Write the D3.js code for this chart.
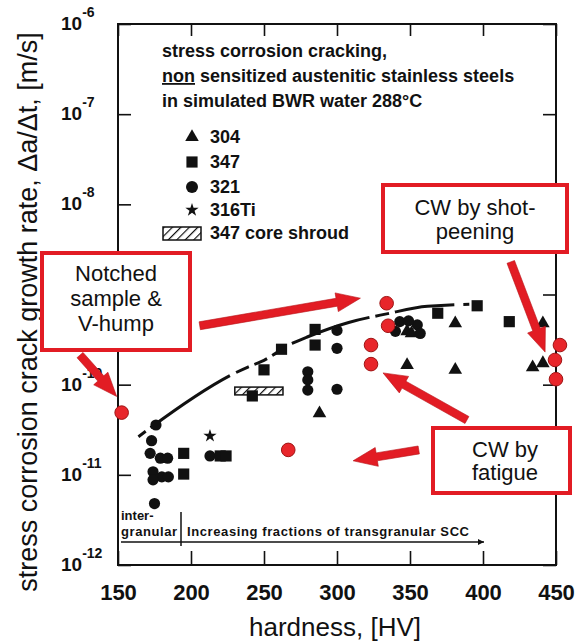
<!DOCTYPE html>
<html>
<head>
<meta charset="utf-8">
<script src="https://cdn.jsdelivr.net/npm/d3@7"></script>
<style>
  body { margin: 0; background: #fff; }
  svg text { font-family: "Liberation Sans", Arial, Helvetica, sans-serif; fill: #111; }
</style>
</head>
<body>
<div id="chart"></div>
<script>
// ---- data ----
var hardnessTicks = [150, 200, 250, 300, 350, 400, 450];
var rateTicks = [1e-6, 1e-7, 1e-8, 1e-9, 1e-10, 1e-11, 1e-12];
var rateExponents = ["-6", "-7", "-8", "-9", "-10", "-11", "-12"];
// the 10^-9 label sits under the "Notched sample" callout in the original
var rateLabelShown = [true, true, true, false, true, true, true];

var seriesNames = ["304", "347", "321", "316Ti", "347 core shroud"];

// 304 - triangles
var hv304 = [288, 348, 351, 348, 381, 381, 441, 434, 441];
var rate304 = [4.8e-11, 3.9e-10, 3.7e-10, 1.65e-10, 4.8e-10, 1.46e-10, 4.8e-10, 1.56e-10, 1.73e-10];

// 347 - squares
var hv347 = [195, 195, 220, 224, 242, 250, 262, 285, 285, 369, 396, 418];
var rate347 = [1.73e-11, 1.02e-11, 1.62e-11, 1.62e-11, 7.5e-11, 1.46e-10, 2.47e-10, 4.1e-10, 2.75e-10, 6.2e-10, 7.5e-10, 5.0e-10];

// 321 - circles
var hv321 = [176, 173, 172, 179, 184, 174, 180, 184.5, 174, 175, 213, 300, 300, 280, 280, 280, 300, 343, 355, 340, 357, 349];
var rate321 = [3.57e-11, 2.39e-11, 1.73e-11, 1.53e-11, 1.53e-11, 1.08e-11, 9.5e-12, 9.5e-12, 8.8e-12, 4.8e-12, 1.62e-11,
               4.0e-10, 2.53e-10, 1.39e-10, 1.13e-10, 8.7e-11, 8.9e-11, 5.0e-10, 4.6e-10, 3.9e-10, 3.7e-10, 5.1e-10];

// 316Ti - star
var hv316Ti = [213];
var rate316Ti = [2.7e-11];

// 347 core shroud - hatched range
var shroudHv = [230, 263];
var shroudRate = [7.7e-11, 9.4e-11];

// cold worked samples - red circles
var hvCW = [152.5, 266.6, 334, 335, 323.3, 323.3, 452.7, 449.3, 450];
var rateCW = [4.9e-11, 1.89e-11, 8.0e-10, 4.5e-10, 2.75e-10, 1.69e-10, 2.75e-10, 1.88e-10, 1.15e-10];

// upper bound trend (dashed)
var trendHv = [164, 239, 248, 270, 280, 308, 334, 362, 400, 446];
var trendRate = [2.65e-11, 1.57e-10, 1.8e-10, 2.9e-10, 3.4e-10, 4.9e-10, 6.1e-10, 7.4e-10, 7.8e-10, 7.7e-10];

// red callout arrows (start -> tip)
var arrowFromHv = [124, 206, 419, 389, 356];
var arrowFromRate = [2.13e-10, 4.5e-10, 2.3e-9, 4.06e-11, 1.89e-11];
var arrowToHv = [149.1, 316, 442.5, 331.5, 311];
var arrowToRate = [7.4e-11, 9.1e-10, 2.3e-10, 1.35e-10, 1.43e-11];

// ---- chart ----
var W = 575, H = 644;
var red = "#e21c24";

var svg = d3.select("#chart").append("svg")
    .attr("width", W)
    .attr("height", H);

var x = d3.scaleLinear().domain([150, 450]).range([118, 556]);
var y = d3.scaleLog().domain([1e-12, 1e-6]).range([565, 24]);

var defs = svg.append("defs");
var hatch = defs.append("pattern")
    .attr("id", "hatch")
    .attr("patternUnits", "userSpaceOnUse")
    .attr("width", 6).attr("height", 6)
    .attr("patternTransform", "rotate(45)");
hatch.append("rect").attr("width", 6).attr("height", 6).attr("fill", "#fff");
hatch.append("line").attr("x1", 0).attr("y1", 0).attr("x2", 0).attr("y2", 6)
    .attr("stroke", "#111").attr("stroke-width", 2.4);

defs.append("marker")
    .attr("id", "blackhead")
    .attr("viewBox", "0 0 10 10")
    .attr("refX", 10).attr("refY", 5)
    .attr("markerWidth", 9).attr("markerHeight", 6)
    .attr("markerUnits", "userSpaceOnUse")
    .attr("orient", "auto")
  .append("path").attr("d", "M0,0L10,5L0,10Z").attr("fill", "#111");

// frame
svg.append("rect")
    .attr("x", x(150)).attr("y", y(1e-6))
    .attr("width", x(450) - x(150)).attr("height", y(1e-12) - y(1e-6))
    .attr("fill", "none").attr("stroke", "#111").attr("stroke-width", 2);

function styleAxis(g) {
  g.select(".domain").remove();
  g.selectAll(".tick line").attr("stroke", "#111").attr("stroke-width", 1.6);
}

// bottom axis
svg.append("g")
    .attr("transform", "translate(0," + y(1e-12) + ")")
    .call(d3.axisBottom(x).tickValues(hardnessTicks).tickSizeInner(-14).tickSizeOuter(0)
      .tickPadding(19).tickFormat(d3.format("d")))
    .call(styleAxis)
    .selectAll("text")
      .attr("font-size", 22)
      .attr("font-weight", "bold");

// top axis
svg.append("g")
    .attr("transform", "translate(0," + y(1e-6) + ")")
    .call(d3.axisTop(x).tickValues(hardnessTicks).tickSizeInner(-12).tickSizeOuter(0).tickFormat(""))
    .call(styleAxis);

// left axis
svg.append("g")
    .attr("transform", "translate(" + x(150) + ",0)")
    .call(d3.axisLeft(y).tickValues(rateTicks).tickSizeInner(-13).tickSizeOuter(0).tickFormat(""))
    .call(styleAxis);

// right axis
svg.append("g")
    .attr("transform", "translate(" + x(450) + ",0)")
    .call(d3.axisRight(y).tickValues(rateTicks).tickSizeInner(-13).tickSizeOuter(0).tickFormat(""))
    .call(styleAxis);

// y tick labels 10^-n
var ylab = svg.append("g").selectAll("text")
    .data(rateTicks.filter(function(d, i) { return rateLabelShown[i]; }))
    .join("text")
    .attr("x", 61)
    .attr("y", function(d) { return y(d) + 6; })
    .attr("font-size", 19)
    .attr("font-weight", "bold");
ylab.append("tspan").text("10");
ylab.append("tspan")
    .attr("dy", -13)
    .attr("font-size", 14)
    .text(function(d) { return rateExponents[rateTicks.indexOf(d)]; });

// axis titles
svg.append("text")
    .attr("transform", "translate(37,312) rotate(-90)")
    .attr("text-anchor", "middle")
    .attr("font-size", 27)
    .text("stress corrosion crack growth rate, \u0394a/\u0394t,  [m/s]");

svg.append("text")
    .attr("x", 335).attr("y", 636)
    .attr("text-anchor", "middle")
    .attr("font-size", 26)
    .text("hardness,  [HV]");

// header text inside plot
var head = svg.append("g").attr("font-size", 18).attr("font-weight", "bold");
head.append("text").attr("x", 162).attr("y", 57).text("stress corrosion cracking,");
var l2 = head.append("text").attr("x", 162).attr("y", 82);
l2.append("tspan").attr("text-decoration", "underline").text("non");
l2.append("tspan").text(" sensitized austenitic stainless steels");
head.append("text").attr("x", 162).attr("y", 107).text("in simulated BWR water 288\u00B0C");

// legend
var legY = [137, 162, 187, 210, 233];
var legend = svg.append("g");
legend.selectAll("text")
    .data(seriesNames)
    .join("text")
    .attr("x", 210)
    .attr("y", function(d, i) { return legY[i] + 6; })
    .attr("font-size", 18)
    .attr("font-weight", "bold")
    .text(function(d) { return d; });

var triSym = d3.symbol().type(d3.symbolTriangle).size(80);
var sqSym = d3.symbol().type(d3.symbolSquare).size(125);
var starSym = d3.symbol().type(d3.symbolStar).size(55);

legend.append("path").attr("d", triSym()).attr("transform", "translate(192," + legY[0] + ")").attr("fill", "#111");
legend.append("path").attr("d", sqSym()).attr("transform", "translate(192," + legY[1] + ")").attr("fill", "#111");
legend.append("circle").attr("cx", 192).attr("cy", legY[2]).attr("r", 6).attr("fill", "#111");
legend.append("path").attr("d", starSym()).attr("transform", "translate(192," + legY[3] + ")").attr("fill", "#111");
legend.append("rect").attr("x", 163).attr("y", legY[4] - 6).attr("width", 38).attr("height", 13)
    .attr("fill", "url(#hatch)").attr("stroke", "#111").attr("stroke-width", 1.5);

// trend line
var trend = d3.line()
    .x(function(d, i) { return x(trendHv[i]); })
    .y(function(d, i) { return y(trendRate[i]); })
    .curve(d3.curveMonotoneX);
svg.append("path")
    .attr("d", trend(trendHv))
    .attr("fill", "none")
    .attr("stroke", "#111")
    .attr("stroke-width", 3)
    .attr("stroke-dasharray", "9,6,95,7,14,6,14,6,14,9,82,6,14,6,60");

// core shroud range
svg.append("rect")
    .attr("x", x(shroudHv[0]))
    .attr("y", y(shroudRate[1]))
    .attr("width", x(shroudHv[1]) - x(shroudHv[0]))
    .attr("height", y(shroudRate[0]) - y(shroudRate[1]))
    .attr("fill", "url(#hatch)").attr("stroke", "#111").attr("stroke-width", 1.5);

// markers
var pts = svg.append("g");
pts.selectAll(".s321").data(hv321).join("circle")
    .attr("cx", function(d) { return x(d); })
    .attr("cy", function(d, i) { return y(rate321[i]); })
    .attr("r", 5.6).attr("fill", "#111");
pts.selectAll(".s347").data(hv347).join("path")
    .attr("d", sqSym())
    .attr("transform", function(d, i) { return "translate(" + x(d) + "," + y(rate347[i]) + ")"; })
    .attr("fill", "#111");
pts.selectAll(".s304").data(hv304).join("path")
    .attr("d", triSym())
    .attr("transform", function(d, i) { return "translate(" + x(d) + "," + y(rate304[i]) + ")"; })
    .attr("fill", "#111");
pts.selectAll(".s316").data(hv316Ti).join("path")
    .attr("d", starSym())
    .attr("transform", function(d, i) { return "translate(" + x(d) + "," + y(rate316Ti[i]) + ")"; })
    .attr("fill", "#111");
pts.selectAll(".cw").data(hvCW).join("circle")
    .attr("cx", function(d) { return x(d); })
    .attr("cy", function(d, i) { return y(rateCW[i]); })
    .attr("r", 6.8)
    .attr("fill", "#e8262b").attr("stroke", "#9e1414").attr("stroke-width", 1);

// bottom note: intergranular / transgranular
var note = svg.append("g").attr("font-size", 13).attr("font-weight", "bold");
note.append("text").attr("x", 121).attr("y", 520).text("inter-");
note.append("text").attr("x", 121).attr("y", 536).attr("textLength", 56).text("granular");
note.append("text").attr("x", 187).attr("y", 536).attr("textLength", 282).text("Increasing fractions of transgranular SCC");
note.append("line").attr("x1", 181).attr("x2", 181).attr("y1", 512).attr("y2", 546)
    .attr("stroke", "#111").attr("stroke-width", 1.5);
note.append("line").attr("x1", 121).attr("x2", 484).attr("y1", 542).attr("y2", 542)
    .attr("stroke", "#111").attr("stroke-width", 1.5).attr("marker-end", "url(#blackhead)");

// callout boxes
var boxes = [
  {x: 42, y: 253, w: 148, h: 97, cx: 116, lines: ["Notched", "sample &", "V-hump"], base: 281, step: 25},
  {x: 383, y: 185, w: 184, h: 67, cx: 475, lines: ["CW by shot-", "peening"], base: 215, step: 24},
  {x: 433, y: 428, w: 137, h: 65, cx: 505, lines: ["CW by", "fatigue"], base: 457, step: 23}
];
boxes.forEach(function(b) {
  svg.append("rect")
      .attr("x", b.x).attr("y", b.y).attr("width", b.w).attr("height", b.h)
      .attr("fill", "#fff").attr("stroke", red).attr("stroke-width", 4);
  b.lines.forEach(function(t, i) {
    svg.append("text")
        .attr("x", b.cx).attr("y", b.base + i * b.step)
        .attr("text-anchor", "middle")
        .attr("font-size", 22)
        .text(t);
  });
});

// red arrows
function arrowPath(x1, y1, x2, y2, w, hl, hw) {
  var dx = x2 - x1, dy = y2 - y1, len = Math.hypot(dx, dy);
  var ux = dx / len, uy = dy / len, px = -uy, py = ux;
  var bx = x2 - ux * hl, by = y2 - uy * hl;
  var p = [
    [x1 + px * w / 2, y1 + py * w / 2],
    [bx + px * w / 2, by + py * w / 2],
    [bx + px * hw / 2, by + py * hw / 2],
    [x2, y2],
    [bx - px * hw / 2, by - py * hw / 2],
    [bx - px * w / 2, by - py * w / 2],
    [x1 - px * w / 2, y1 - py * w / 2]
  ];
  return "M" + p.map(function(q) { return q[0].toFixed(1) + "," + q[1].toFixed(1); }).join("L") + "Z";
}
svg.append("g").selectAll("path")
    .data(arrowFromHv)
    .join("path")
    .attr("d", function(d, i) {
      return arrowPath(x(d), y(arrowFromRate[i]), x(arrowToHv[i]), y(arrowToRate[i]), 8, 24, 19);
    })
    .attr("fill", red)
    .attr("stroke", "#b71218").attr("stroke-width", 0.6);
</script>
</body>
</html>
